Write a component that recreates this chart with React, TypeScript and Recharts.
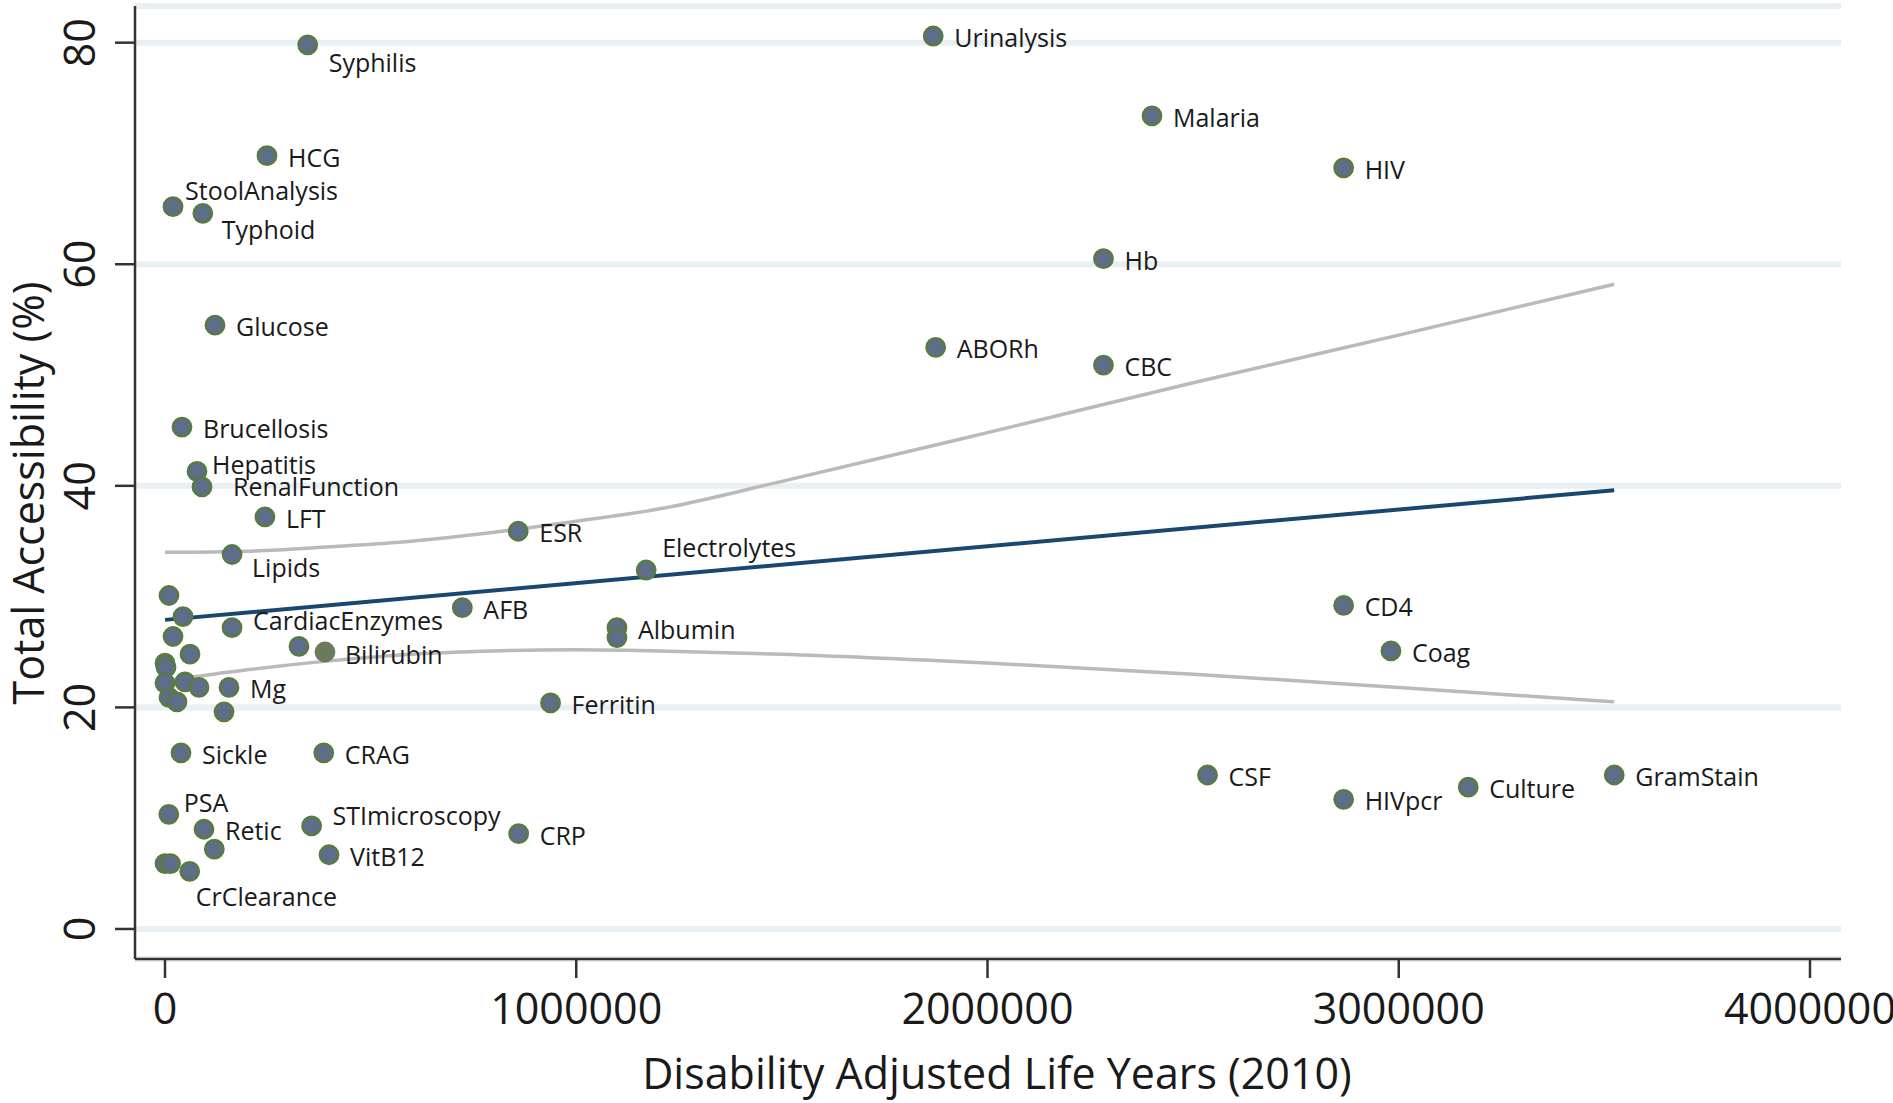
import React from 'react';
import { CartesianGrid, Scatter, ScatterChart, XAxis, YAxis } from 'recharts';

// lab tests: name, DALYs (2010), total accessibility (%)
const tests = [
  'Syphilis', 'Urinalysis', 'Malaria', 'HIV', 'HCG', 'StoolAnalysis', 'Typhoid', 'Hb', 'Glucose', 'ABORh',
  'CBC', 'Brucellosis', 'Hepatitis', 'RenalFunction', 'LFT', 'ESR', 'Lipids', 'Electrolytes', '', 'AFB',
  'CD4', '', 'CardiacEnzymes', 'Albumin', '', '', '', '', 'Bilirubin', 'Coag',
  '', '', '', '', '', 'Mg', '', '', '', 'Ferritin',
  'Sickle', 'CRAG', 'CSF', 'GramStain', 'Culture', 'HIVpcr', 'PSA', 'Retic', 'STImicroscopy', 'CRP',
  '', 'VitB12', '', '', 'CrClearance',
];
const dalys = [
  347000, 1868000, 2400000, 2866000, 248000, 19500, 92000, 2282000, 121600, 1874000,
  2282000, 41300, 77800, 90000, 243000, 859000, 163000, 1170000, 9700, 723000,
  2866000, 43800, 163000, 1099000, 1099000, 19500, 60800, 325800, 389000, 2981000,
  0, 2400, 0, 48600, 82700, 155600, 9700, 29200, 143500, 937500,
  38900, 386000, 2535000, 3524000, 3169000, 2866000, 9200, 94800, 356500, 860000,
  119900, 398800, 0, 13400, 60100,
];
const access = [
  79.8, 80.6, 73.4, 68.7, 69.8, 65.2, 64.6, 60.5, 54.5, 52.5,
  50.9, 45.3, 41.3, 39.9, 37.2, 35.9, 33.8, 32.4, 30.1, 29.0,
  29.2, 28.2, 27.2, 27.2, 26.3, 26.4, 24.8, 25.5, 25.0, 25.1,
  24.0, 23.6, 22.2, 22.3, 21.8, 21.8, 20.9, 20.5, 19.6, 20.4,
  15.9, 15.9, 13.9, 13.9, 12.8, 11.7, 10.35, 9.0, 9.3, 8.6,
  7.2, 6.7, 5.9, 5.9, 5.2,
];

// linear fit and its confidence band
const fitX = [0, 3524000];
const fitY = [27.9, 39.6];
const bandX = [0, 200000, 400000, 600000, 800000, 1000000, 1200000, 1500000, 2000000, 2500000, 3000000, 3524000];
const upperY = [34.0, 34.1, 34.5, 35.0, 35.8, 36.8, 37.9, 40.4, 44.8, 49.3, 53.6, 58.2];
const lowerY = [22.4, 23.4, 24.2, 24.8, 25.1, 25.2, 25.1, 24.8, 24.0, 23.0, 21.8, 20.5];

const xTicks = [0, 1000000, 2000000, 3000000, 4000000];
const yTicks = [0, 20, 40, 60, 80];

// label offsets (text start / text centre relative to the marker), default is to the right
const LABEL_OFFSET: Record<string, [number, number]> = {
  Syphilis: [21, 18],
  StoolAnalysis: [12, -16],
  Typhoid: [19, 17],
  Hepatitis: [15, -6],
  RenalFunction: [31, 0],
  Lipids: [20, 13],
  CardiacEnzymes: [21, -7],
  Electrolytes: [16, -22],
  PSA: [15, -11],
  STImicroscopy: [21, -10],
  CrClearance: [6, 26],
  Bilirubin: [20, 3],
};
const SPECIAL_FILL: Record<string, string> = { Bilirubin: '#6b7a5c' };

const FONT = '"Open Sans", "Noto Sans", sans-serif';
const TEXT = '#1a1a1a';
const AXIS = '#333333';

const points = tests.map((name, i) => ({ name, x: dalys[i], y: access[i] }));
const fitPts = fitX.map((x, i) => ({ x, y: fitY[i] }));
const upperPts = bandX.map((x, i) => ({ x, y: upperY[i] }));
const lowerPts = bandX.map((x, i) => ({ x, y: lowerY[i] }));

const Dot = (props: any) => {
  const { cx, cy, payload } = props;
  const fill = SPECIAL_FILL[payload?.name] || '#5e6d8a';
  const stroke = SPECIAL_FILL[payload?.name] || '#597b3c';
  return <circle cx={cx} cy={cy} r={9.2} fill={fill} stroke={stroke} strokeWidth={2.4} />;
};

const DotLabel = (props: any) => {
  const { cx, cy, payload } = props;
  if (!payload?.name) return <g />;
  const [dx, dy] = LABEL_OFFSET[payload.name] || [21, 2];
  return (
    <text x={cx + dx} y={cy + dy + 9} fontFamily={FONT} fontSize={25} fill={TEXT}>
      {payload.name}
    </text>
  );
};

const Empty = () => <g />;

const YTick = ({ y, payload }: any) => (
  <text x={95} y={y} transform={`rotate(-90, 95, ${y})`} textAnchor="middle" fontFamily={FONT} fontSize={43} fill={TEXT}>
    {payload.value}
  </text>
);

const XTick = ({ x, payload }: any) => (
  <text x={x} y={1024} textAnchor="middle" fontFamily={FONT} fontSize={43} fill={TEXT}>
    {payload.value}
  </text>
);

export default function App() {
  return (
    <div style={{ position: 'absolute', left: 0, top: 0, width: 1893, height: 1103, background: '#fff' }}>
      <ScatterChart width={1893} height={1103} margin={{ top: 6, right: 52, left: 0, bottom: 0 }}>
        <CartesianGrid horizontal vertical={false} stroke="#e9f0f3" strokeWidth={6} />
        <XAxis
          type="number"
          dataKey="x"
          domain={[-72950, 4075400]}
          allowDataOverflow
          ticks={xTicks}
          height={144}
          tickSize={19}
          tick={<XTick />}
          axisLine={{ stroke: AXIS, strokeWidth: 2.5 }}
          tickLine={{ stroke: AXIS, strokeWidth: 2.5 }}
          label={{
            content: () => (
              <text x={997} y={1089} textAnchor="middle" fontFamily={FONT} fontSize={43} fill={TEXT}>
                Disability Adjusted Life Years (2010)
              </text>
            ),
          }}
        />
        <YAxis
          type="number"
          dataKey="y"
          domain={[-2.71, 83.31]}
          allowDataOverflow
          ticks={yTicks}
          width={135}
          tickSize={20}
          tick={<YTick />}
          axisLine={{ stroke: AXIS, strokeWidth: 2.5 }}
          tickLine={{ stroke: AXIS, strokeWidth: 2.5 }}
          label={{
            content: () => (
              <text x={44} y={493} transform="rotate(-90, 44, 493)" textAnchor="middle" fontFamily={FONT} fontSize={43} fill={TEXT}>
                Total Accessibility (%)
              </text>
            ),
          }}
        />
        <Scatter data={upperPts} shape={<Empty />} line={{ stroke: '#bababa', strokeWidth: 3.5 }} lineJointType="monotoneX" isAnimationActive={false} />
        <Scatter data={lowerPts} shape={<Empty />} line={{ stroke: '#bababa', strokeWidth: 3.5 }} lineJointType="monotoneX" isAnimationActive={false} />
        <Scatter data={fitPts} shape={<Empty />} line={{ stroke: '#1a476f', strokeWidth: 4 }} isAnimationActive={false} />
        <Scatter data={points} shape={<Dot />} isAnimationActive={false} />
        <Scatter data={points} shape={<DotLabel />} isAnimationActive={false} />
      </ScatterChart>
    </div>
  );
}
